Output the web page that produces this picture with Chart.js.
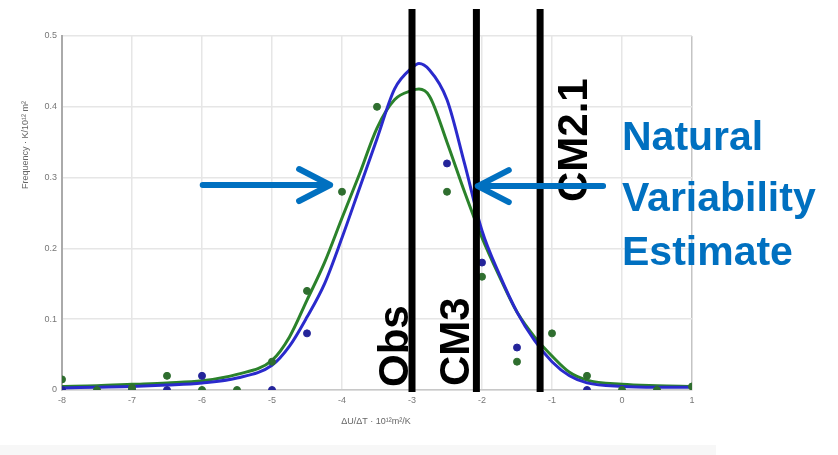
<!DOCTYPE html>
<html>
<head>
<meta charset="utf-8">
<script src="https://cdn.jsdelivr.net/npm/chart.js@4.4.1/dist/chart.umd.min.js"></script>
<style>
  body { margin: 0; background: #fff; }
  #wrap { width: 838px; height: 455px; }
</style>
</head>
<body>
<div id="wrap"><canvas id="pdf-chart" width="838" height="455"></canvas></div>
<script>
// fitted curves
const curveX = [-8, -7.5, -7, -6.5, -6, -5.5, -5, -4.75, -4.5, -4.25, -4, -3.75, -3.5, -3.25, -3, -2.9, -2.75, -2.5, -2.25, -2, -1.75, -1.5, -1.25, -1, -0.75, -0.5, 0, 0.5, 1];
const blueCurve = [0.003, 0.004, 0.005, 0.007, 0.010, 0.017, 0.035, 0.062, 0.103, 0.150, 0.215, 0.285, 0.355, 0.425, 0.455, 0.461, 0.452, 0.410, 0.320, 0.225, 0.163, 0.110, 0.070, 0.040, 0.020, 0.010, 0.005, 0.004, 0.004];
const greenCurve = [0.005, 0.006, 0.008, 0.010, 0.013, 0.022, 0.042, 0.075, 0.127, 0.180, 0.243, 0.305, 0.370, 0.410, 0.423, 0.425, 0.415, 0.350, 0.280, 0.215, 0.160, 0.110, 0.075, 0.048, 0.025, 0.014, 0.008, 0.006, 0.005];

// histogram points
const greenPtX = [-8, -7.5, -7, -6.5, -6, -5.5, -5, -4.5, -4, -3.5, -2.5, -2, -1.5, -1, -0.5, 0, 0.5, 1];
const greenPtY = [0.015, 0, 0.003, 0.02, 0, 0, 0.04, 0.14, 0.28, 0.40, 0.28, 0.16, 0.04, 0.08, 0.02, 0, 0, 0.005];
const bluePtX = [-8, -7, -6.5, -6, -5, -4.5, -2.5, -2, -1.5, -0.5];
const bluePtY = [0, 0, 0, 0.02, 0, 0.08, 0.32, 0.18, 0.06, 0];

// model estimates (vertical lines)
const modelNames = ['Obs', 'CM3', 'CM2.1'];
const modelValues = [-3, -2.08, -1.17];

const xTicks = [-8, -7, -6, -5, -4, -3, -2, -1, 0, 1];
const yTicks = [0, 0.1, 0.2, 0.3, 0.4, 0.5];

const toPoints = (xs, ys) => xs.map((x, i) => ({ x: x, y: ys[i] }));

const BLUE_NOTE = '#0070C0';

const overlay = {
    id: 'overlay',
    beforeDraw(chart) {
        const ctx = chart.ctx;
        ctx.save();
        ctx.fillStyle = '#f7f7f7';
        ctx.fillRect(0, 445, 716, 10);
        ctx.restore();
    },
    afterDatasetsDraw(chart) {
        const ctx = chart.ctx;
        const xs = chart.scales.x;
        const ys = chart.scales.y;
        ctx.save();

        // axis titles
        ctx.fillStyle = '#666';
        ctx.font = '9px "Liberation Sans", Arial, sans-serif';
        ctx.textAlign = 'center';
        ctx.textBaseline = 'middle';
        ctx.fillText('\u0394U/\u0394T \u00b7 10\u00b9\u00b2m\u00b2/K', 376, 422);
        ctx.save();
        ctx.translate(26, 145);
        ctx.rotate(-Math.PI / 2);
        ctx.fillText('Frequency \u00b7 K/10\u00b9\u00b2 m\u00b2', 0, 0);
        ctx.restore();

        // vertical lines
        const top = ys.getPixelForValue(0.538);
        const bot = ys.getPixelForValue(-0.003);
        ctx.strokeStyle = '#000';
        ctx.lineWidth = 7;
        modelValues.forEach(v => {
            const px = xs.getPixelForValue(v);
            ctx.beginPath();
            ctx.moveTo(px, top);
            ctx.lineTo(px, bot);
            ctx.stroke();
        });

        // rotated labels
        ctx.fillStyle = '#000';
        ctx.font = 'bold 42px "Liberation Sans", Arial, sans-serif';
        ctx.textAlign = 'left';
        ctx.textBaseline = 'alphabetic';
        const labelPos = [
            { dx: -4, y: 387 },
            { dx: -7, y: 386 },
            { dx: 47, y: 202 }
        ];
        modelNames.forEach((name, i) => {
            const px = xs.getPixelForValue(modelValues[i]);
            ctx.save();
            ctx.translate(px + labelPos[i].dx, labelPos[i].y);
            ctx.rotate(-Math.PI / 2);
            ctx.fillText(name, 0, 0);
            ctx.restore();
        });

        // arrows
        const arrow = (xFrom, xTo, yv) => {
            const x0 = xs.getPixelForValue(xFrom);
            const x1 = xs.getPixelForValue(xTo);
            const y = ys.getPixelForValue(yv);
            const dir = Math.sign(x1 - x0);
            ctx.strokeStyle = BLUE_NOTE;
            ctx.lineWidth = 6;
            ctx.lineCap = 'round';
            ctx.lineJoin = 'round';
            ctx.beginPath();
            ctx.moveTo(x0, y);
            ctx.lineTo(x1, y);
            ctx.moveTo(x1 - dir * 31, y - 16);
            ctx.lineTo(x1, y);
            ctx.lineTo(x1 - dir * 31, y + 16);
            ctx.stroke();
        };
        arrow(-5.99, -4.17, 0.2895);
        arrow(-0.27, -2.06, 0.288);

        // note
        ctx.fillStyle = BLUE_NOTE;
        ctx.font = 'bold 41px "Liberation Sans", Arial, sans-serif';
        ctx.fillText('Natural', 622, 150);
        ctx.fillText('Variability', 622, 211);
        ctx.fillText('Estimate', 622, 265);

        ctx.restore();
    }
};

const ctx = document.getElementById('pdf-chart').getContext('2d');

const pdfChart = new Chart(ctx, {
    type: 'scatter',
    data: {
        datasets: [
            {
                data: toPoints(greenPtX, greenPtY),
                backgroundColor: '#2f6e2f',
                borderColor: '#2f6e2f',
                pointRadius: 3.5,
                showLine: false
            },
            {
                data: toPoints(bluePtX, bluePtY),
                backgroundColor: '#24249a',
                borderColor: '#24249a',
                pointRadius: 3.5,
                showLine: false
            },
            {
                data: toPoints(curveX, blueCurve),
                borderColor: '#2a2acc',
                borderWidth: 3,
                pointRadius: 0,
                showLine: true,
                tension: 0.4,
                cubicInterpolationMode: 'monotone'
            },
            {
                data: toPoints(curveX, greenCurve),
                borderColor: '#2b822b',
                borderWidth: 3,
                pointRadius: 0,
                showLine: true,
                tension: 0.4,
                cubicInterpolationMode: 'monotone'
            }
        ]
    },
    options: {
        responsive: false,
        animation: false,
        layout: {
            padding: { left: 0, right: 146, top: 36, bottom: 0 }
        },
        plugins: {
            legend: { display: false },
            tooltip: { enabled: false }
        },
        scales: {
            x: {
                type: 'linear',
                min: -8,
                max: 1,
                afterFit: s => { s.height = 65; },
                afterBuildTicks: s => { s.ticks = xTicks.map(v => ({ value: v })); },
                grid: {
                    color: c => c.tick && c.tick.value === 1 ? '#c4c4c4' : '#e6e6e6',
                    lineWidth: 1.5,
                    drawTicks: false
                },
                border: { color: '#c8c8c8', width: 1.5 },
                ticks: {
                    color: '#777',
                    font: { size: 9, family: '"Liberation Sans", Arial, sans-serif' },
                    padding: 5
                }
            },
            y: {
                type: 'linear',
                min: 0,
                max: 0.5,
                afterFit: s => { s.width = 62; },
                afterBuildTicks: s => { s.ticks = yTicks.map(v => ({ value: v })); },
                grid: {
                    color: '#e6e6e6',
                    lineWidth: 1.5,
                    drawTicks: false
                },
                border: { color: '#aaa', width: 2 },
                ticks: {
                    color: '#777',
                    font: { size: 9, family: '"Liberation Sans", Arial, sans-serif' },
                    padding: 5,
                    callback: v => v === 0 ? '0' : v.toFixed(1)
                }
            }
        }
    },
    plugins: [overlay]
});
</script>
</body>
</html>
